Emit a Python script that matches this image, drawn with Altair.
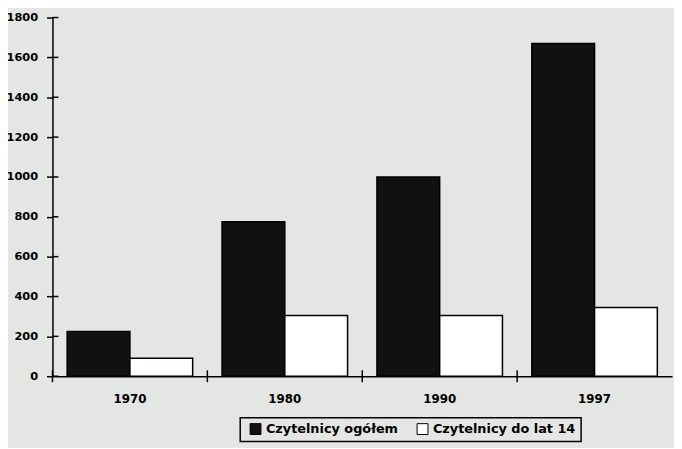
import altair as alt
import pandas as pd

years = ["1970", "1980", "1990", "1997"]
ogolem = [225, 775, 1000, 1670]
do_lat_14 = [90, 305, 305, 345]
series = ["Czytelnicy ogółem", "Czytelnicy do lat 14"]
y_ticks = [0, 200, 400, 600, 800, 1000, 1200, 1400, 1600, 1800]

rows = []
for i, yr in enumerate(years):
    rows.append({"rok": yr, "seria": series[0], "liczba": ogolem[i]})
    rows.append({"rok": yr, "seria": series[1], "liczba": do_lat_14[i]})
df = pd.DataFrame(rows)

W, H = 627, 363
FONT = "DejaVu Sans"

x_enc = alt.X(
    "rok:N", sort=years,
    scale=alt.Scale(paddingInner=0, paddingOuter=0),
    axis=alt.Axis(title=None, labelAngle=0, ticks=False, tickSize=0,
                  labelFont=FONT, labelFontWeight="bold", labelFontSize=12,
                  labelColor="black", labelPadding=18,
                  domainColor="black", domainWidth=1.5),
)
y_enc = alt.Y(
    "liczba:Q",
    scale=alt.Scale(domain=[0, 1800], nice=False),
    axis=alt.Axis(title=None, values=y_ticks, format="d", grid=False, tickSize=6,
                  tickColor="black", tickWidth=1.5,
                  labelFont=FONT, labelFontWeight="bold", labelFontSize=11.5,
                  labelColor="black", labelPadding=9,
                  domainColor="black", domainWidth=1.5),
)

bars = alt.Chart(df).mark_bar(stroke="black", strokeWidth=1.5, opacity=1).encode(
    x=x_enc,
    xOffset=alt.XOffset("seria:N", sort=series,
                        scale=alt.Scale(paddingOuter=0.234, paddingInner=0)),
    y=y_enc,
    color=alt.Color(
        "seria:N", sort=series,
        scale=alt.Scale(domain=series, range=["#111111", "#ffffff"]),
        legend=alt.Legend(
            title=None, orient="none", legendX=190, legendY=405,
            direction="horizontal", symbolType="square", symbolSize=121,
            symbolStrokeColor="black", symbolStrokeWidth=1, symbolOpacity=1,
            symbolOffset=4,
            labelFont=FONT, labelFontWeight="bold", labelFontSize=13,
            labelColor="black", strokeColor="black", padding=5,
            columnPadding=14, labelOffset=4,
        ),
    ),
)

ytick_df = pd.DataFrame({"liczba": y_ticks})
y_inner = alt.Chart(ytick_df).mark_rule(color="black", strokeWidth=1.5).encode(
    y=alt.Y("liczba:Q"), x=alt.value(0), x2=alt.value(6)
)

xtick_df = pd.DataFrame({"rok": years})
x_inner = alt.Chart(xtick_df).mark_rule(color="black", strokeWidth=1.5).encode(
    x=alt.X("rok:N", sort=years, bandPosition=0),
    y=alt.value(H - 6), y2=alt.value(H + 6),
)

chart = alt.layer(bars, y_inner, x_inner).properties(
    width=W, height=H,
    autosize=alt.AutoSizeParams(type="none"),
    padding={"left": 45, "top": 7, "right": 2, "bottom": 70},
    background="#e4e6e3",
).configure_view(stroke=None).configure_legend(strokeWidth=1.5)

chart.save("out.html", embed_options={"renderer": "svg", "actions": False})
